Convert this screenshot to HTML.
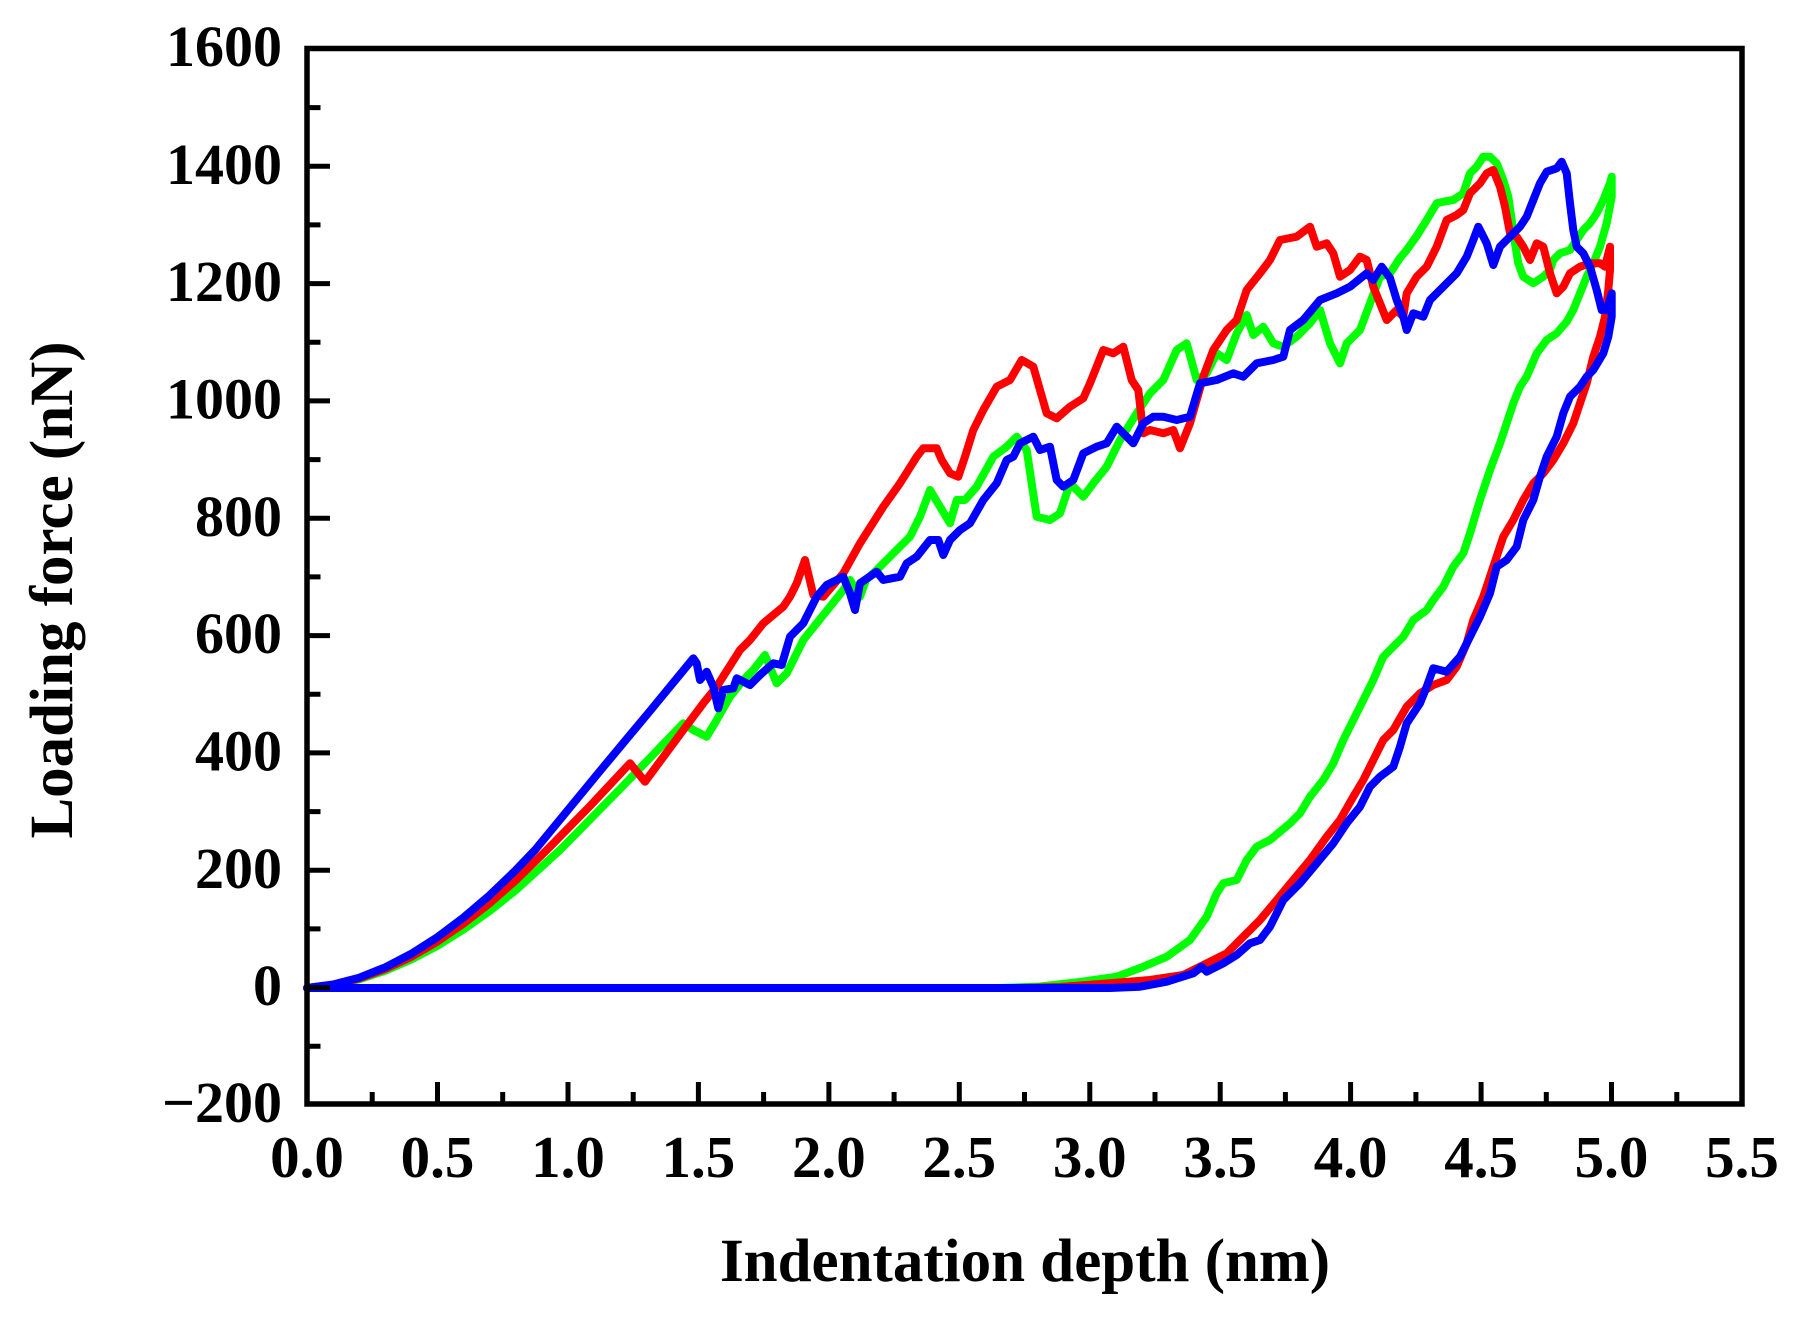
<!DOCTYPE html>
<html><head><meta charset="utf-8"><style>
html,body{margin:0;padding:0;background:#fff;}
svg{display:block;}
text{font-family:"Liberation Serif","Times New Roman",serif;font-weight:bold;fill:#000;}
</style></head><body>
<svg width="1803" height="1318" viewBox="0 0 1803 1318" xmlns="http://www.w3.org/2000/svg">
<rect x="0" y="0" width="1803" height="1318" fill="#fff"/>
<g fill="none" stroke-width="8" stroke-linejoin="round" stroke-linecap="round">
<path stroke="#00ff00" d="M307,988 L333.1,985 L359.2,979.3 L385.3,970.7 L411.4,959.5 L437.5,945.7 L463.5,929.5 L489.6,911 L515.7,890.3 L560,850 L620,789 L683.3,723.3 L693.3,730 L706.7,736.7 L716.7,720 L730,696.7 L743.3,680 L753.3,670 L765,655 L776.7,683.3 L786.7,673.3 L803.3,640 L816.7,623.3 L830,606.7 L843.3,590 L850,580 L860,596.7 L866,580 L876.7,570 L893.3,553.3 L910,536.7 L920,516.7 L930,490 L940,506.7 L950,523.3 L956.7,500 L965,500 L976.7,486.7 L993.3,456.7 L1006.7,446.7 L1016.7,436.7 L1026.7,450 L1036.7,516.7 L1050,520 L1060,513.3 L1070,483.3 L1076.7,490 L1083.3,496.7 L1093.3,483.3 L1106.7,466.7 L1120,440 L1136.7,413.3 L1150,393.3 L1163.3,380 L1176.7,350 L1186.7,343.3 L1196.7,380 L1206.7,373.3 L1216.7,353.3 L1226.7,360 L1236.7,333.3 L1246.7,315 L1253.3,335 L1263.3,326.7 L1273.3,343.3 L1283.3,346.7 L1296.7,336.7 L1310,323.3 L1320,310 L1330,343.3 L1340,363.3 L1346.7,343.3 L1360,330 L1370,303.3 L1380,276.7 L1390,273.3 L1400,258 L1406.7,250 L1416.7,236 L1426.7,220 L1436.7,203.3 L1443.3,201.7 L1453.3,200 L1463.3,193.3 L1470,173.3 L1476.7,166.7 L1483.3,156.7 L1490,156.7 L1496.7,163.3 L1503.3,180 L1508.3,196.7 L1511.7,220 L1515,243.3 L1518.3,263.3 L1523.3,276.7 L1533.3,283.3 L1543.3,276.7 L1550,270 L1553.3,260 L1560,253.3 L1570,250 L1576.7,240 L1583.3,230 L1590,223.3 L1596.7,213.3 L1603.3,200 L1610,183.3 L1611.7,176.7 L1611.7,196.7 L1606.7,223.3 L1600,246.7 L1593.3,263.3 L1586.7,276.7 L1580,293.3 L1573.3,310 L1566.7,321.7 L1556.7,333.3 L1546.7,340 L1536.7,353.3 L1526.7,376.7 L1520,386.7 L1513.3,403.3 L1506.7,423.3 L1500,443.3 L1490,470 L1480,500 L1470,533.3 L1463.3,553.3 L1453.3,566.7 L1443.3,586.7 L1433.3,600 L1426.7,610 L1413.3,620 L1403.3,636.7 L1393.3,646.7 L1383.3,656.7 L1373.3,680 L1363.3,700 L1353.3,720 L1343.3,740 L1333.3,763.3 L1323.3,780 L1310,796.7 L1300,813.3 L1290,823.3 L1270,840 L1256.7,846.7 L1246.7,860 L1236.7,880 L1223.3,883.3 L1216.7,893.3 L1206.7,916.7 L1190,940 L1166.7,956.7 L1143.3,966.7 L1116.7,976.7 L1080,982 L1040,986.5 L1000,988 L307,988"/>
<path stroke="#ff0000" d="M307,988 L333.1,984.8 L359.2,978.5 L385.3,969 L411.4,956.7 L437.5,941.5 L463.5,923.6 L489.6,903.3 L515.7,880.4 L546.8,850 L590,806 L630,763.3 L645,781.7 L683.3,730 L703.3,703.3 L716.7,686.7 L740,650 L750,640 L763.3,623.3 L783.3,606.7 L790,596.7 L796.7,583.3 L805,560 L813.3,595 L823.3,596.7 L843.3,573.3 L860,543.3 L883.3,506.7 L900,483.3 L916.7,456.7 L923.3,448.3 L936.7,448.3 L941.7,460 L950,473.3 L958.3,476.7 L965,456.7 L973.3,430 L983.3,410 L996.7,386.7 L1010,380 L1021.7,360 L1033.3,366.7 L1046.7,413.3 L1056.7,418.3 L1070,406.7 L1083.3,398.3 L1090,383.3 L1103.3,350 L1113.3,353.3 L1123.3,346.7 L1131.7,380 L1138.3,390 L1143.3,433.3 L1150,430 L1163.3,433.3 L1173.3,430 L1180,448.3 L1190,423.3 L1203.3,376.7 L1213.3,350 L1226.7,330 L1236.7,320 L1246.7,290 L1260,273.3 L1270,260 L1280,240 L1296.7,236.7 L1310,226.7 L1316.7,246.7 L1326.7,243.3 L1333.3,253.3 L1340,276.7 L1350,270 L1360,256.7 L1366.7,260 L1373.3,286.7 L1380,303.3 L1386.7,320 L1396.7,310 L1403.3,316.7 L1406.7,293.3 L1416.7,276.7 L1426.7,266.7 L1436.7,246.7 L1446.7,220 L1456.7,215 L1463.3,210 L1470,193.3 L1480,183.3 L1486.7,173.3 L1493.3,170 L1500,186.7 L1505,206.7 L1510,233.3 L1516.7,236.7 L1523.3,246.7 L1530,260 L1536.7,243.3 L1543.3,246.7 L1550,273.3 L1556.7,293.3 L1563.3,286.7 L1570,273.3 L1580,266.7 L1590,263.3 L1600,263.3 L1605,266.7 L1610,246.7 L1610,270 L1608.3,290 L1605,316.7 L1600,336.7 L1593.3,356.7 L1586.7,383.3 L1580,403.3 L1573.3,423.3 L1563.3,443.3 L1553.3,460 L1543.3,473.3 L1533.3,483.3 L1523.3,500 L1513.3,520 L1503.3,536.7 L1493.3,566.7 L1483.3,596.7 L1473.3,620 L1466.7,643.3 L1456.7,666.7 L1446.7,680 L1433.3,685 L1420,693.3 L1406.7,706.7 L1393.3,730 L1383.3,740 L1373.3,760 L1363.3,780 L1353.3,796.7 L1340,820 L1326.7,836.7 L1310,860 L1293.3,880 L1276.7,900 L1260,920 L1250,930 L1240,940 L1226.7,953.3 L1206.7,963.3 L1183.3,975 L1150,980 L1100,984 L1060,987 L1020,988 L307,988"/>
<path stroke="#0000ff" d="M307,988 L333.1,984.5 L359.2,977.7 L385.3,967.3 L411.4,953.7 L437.5,937.1 L463.5,917.6 L489.6,895.3 L515.7,870.2 L535,850 L600,771 L650,711 L693.3,658.3 L696.7,663.3 L700,680 L706.7,671.7 L713.3,686.7 L718.3,708.3 L723.3,690 L733.3,688.3 L736.7,678.3 L750,685 L760,675 L773.3,663.3 L781.7,665 L790,636.7 L803.3,623.3 L816.7,596.7 L826.7,585 L843.3,576.7 L850,593.3 L855,610 L860,583.3 L876.7,571.7 L883.3,580 L900,576.7 L906.7,563.3 L916.7,556.7 L930,540 L938.3,540 L943.3,555 L950,540 L960,530 L970,523.3 L983.3,500 L996.7,483.3 L1006.7,460 L1013.3,456.7 L1020,443.3 L1033.3,436.7 L1040,450 L1050,446.7 L1056.7,480 L1063.3,486.7 L1073.3,480 L1083.3,453.3 L1096.7,446.7 L1106.7,443.3 L1116.7,426.7 L1126.7,436.7 L1133.3,443.3 L1143.3,423.3 L1153.3,416.7 L1163.3,416.7 L1176.7,420 L1190,416.7 L1200,383.3 L1216.7,380 L1233.3,373.3 L1243.3,376.7 L1256.7,363.3 L1273.3,360 L1283.3,356.7 L1290,330 L1303.3,320 L1320,300 L1336.7,293.3 L1350,286.7 L1366.7,273.3 L1373.3,280 L1381.7,266.7 L1390,278 L1396.7,300 L1403.3,316.7 L1406.7,330 L1413.3,313.3 L1423.3,316.7 L1430,300 L1436.7,293.3 L1446.7,283.3 L1456.7,273.3 L1466.7,256.7 L1473.3,240 L1478.3,226.7 L1486.7,243.3 L1493.3,265 L1500,246.7 L1510,236.7 L1520,226.7 L1526.7,216.7 L1533.3,200 L1540,183.3 L1546.7,171.7 L1556.7,168.3 L1561.7,161.7 L1566.7,173.3 L1570,203.3 L1573.3,230 L1576.7,246.7 L1583.3,253.3 L1590,266.7 L1596.7,290 L1601.7,310 L1606.7,310 L1611.7,293.3 L1611.7,316.7 L1608.3,336.7 L1603.3,353.3 L1593.3,370 L1586.7,376.7 L1580,386.7 L1570,396.7 L1563.3,413.3 L1556.7,436.7 L1546.7,456.7 L1540,476.7 L1533.3,500 L1523.3,520 L1516.7,546.7 L1506.7,560 L1496.7,566.7 L1490,593.3 L1480,616.7 L1470,636.7 L1460,656.7 L1446.7,671.7 L1433.3,668.3 L1426.7,686.7 L1420,703.3 L1406.7,723.3 L1400,746.7 L1393.3,766.7 L1380,776.7 L1370,786.7 L1360,806.7 L1346.7,823.3 L1333.3,843.3 L1316.7,863.3 L1300,883.3 L1283.3,900 L1270,926.7 L1260,940 L1250,943.3 L1236.7,955 L1223.3,963.3 L1206.7,971.7 L1201.7,966.7 L1193.3,973.3 L1166.7,981.7 L1140,986.7 L1110,988 L307,988"/>
</g>
<g stroke="#000" stroke-width="5">
<path d="M437.5,1104V1082 M568,1104V1082 M698.4,1104V1082 M828.9,1104V1082 M959.3,1104V1082 M1089.8,1104V1082 M1220.2,1104V1082 M1350.6,1104V1082 M1481.1,1104V1082 M1611.5,1104V1082"/>
<path d="M372.2,1104V1092 M502.7,1104V1092 M633.2,1104V1092 M763.6,1104V1092 M894.1,1104V1092 M1024.5,1104V1092 M1155,1104V1092 M1285.4,1104V1092 M1415.9,1104V1092 M1546.3,1104V1092 M1676.8,1104V1092"/>
<path d="M307,987.6H330 M307,870.3H330 M307,752.9H330 M307,635.6H330 M307,518.3H330 M307,400.9H330 M307,283.6H330 M307,166.3H330"/>
<path d="M307,1046.3H320.5 M307,928.9H320.5 M307,811.6H320.5 M307,694.3H320.5 M307,576.9H320.5 M307,459.6H320.5 M307,342.3H320.5 M307,224.9H320.5 M307,107.6H320.5"/>
</g>
<rect x="307" y="48.5" width="1435" height="1055.5" fill="none" stroke="#000" stroke-width="5.5"/>
<g font-size="58" text-anchor="end">
<text x="282" y="66">1600</text>
<text x="282" y="183.8">1400</text>
<text x="282" y="301.1">1200</text>
<text x="282" y="418.4">1000</text>
<text x="282" y="535.8">800</text>
<text x="282" y="653.1">600</text>
<text x="282" y="770.4">400</text>
<text x="282" y="887.8">200</text>
<text x="282" y="1005.1">0</text>
<text x="282" y="1122">−200</text>
</g>
<g font-size="59" text-anchor="middle">
<text x="307" y="1177">0.0</text>
<text x="437.5" y="1177">0.5</text>
<text x="568" y="1177">1.0</text>
<text x="698.4" y="1177">1.5</text>
<text x="828.9" y="1177">2.0</text>
<text x="959.3" y="1177">2.5</text>
<text x="1089.8" y="1177">3.0</text>
<text x="1220.2" y="1177">3.5</text>
<text x="1350.6" y="1177">4.0</text>
<text x="1481.1" y="1177">4.5</text>
<text x="1611.5" y="1177">5.0</text>
<text x="1742" y="1177">5.5</text>
</g>
<text x="1025" y="1281" font-size="61" text-anchor="middle">Indentation depth (nm)</text>
<text transform="translate(72,590) rotate(-90)" x="0" y="0" font-size="61" text-anchor="middle">Loading force (nN)</text>
</svg>
</body></html>
